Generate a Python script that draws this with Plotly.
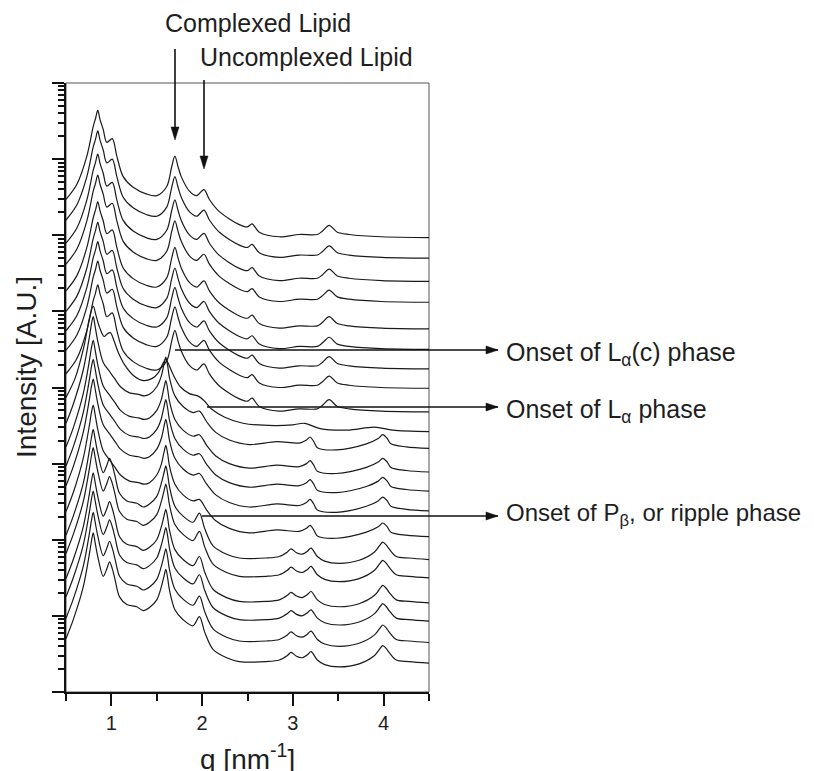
import plotly.graph_objects as go

# ---------------- data ----------------
# Scattering profiles: q [nm^-1] knots and log10 intensity relative to the curve's low-q start
q_Lac = [0.50, 0.62, 0.73, 0.80, 0.825, 0.85, 0.875, 0.91, 0.95, 1.01, 1.06, 1.13, 1.24, 1.39, 1.50,
         1.61, 1.665, 1.70, 1.735, 1.77, 1.86, 1.94, 2.02, 2.08, 2.19, 2.41, 2.50, 2.55, 2.63, 2.85,
         3.07, 3.27, 3.33, 3.40, 3.49, 3.62, 3.98, 4.50]
lg_Lac = [0.00, 0.20, 0.57, 0.96, 1.06, 1.17, 1.05, 0.92, 0.75, 0.80, 0.57, 0.30, 0.16, 0.07, 0.05,
          0.17, 0.43, 0.57, 0.43, 0.30, 0.11, 0.05, 0.13, 0.00, -0.16, -0.33, -0.36, -0.32, -0.43, -0.49,
          -0.46, -0.46, -0.41, -0.34, -0.43, -0.46, -0.49, -0.50]

q_La = [0.50, 0.60, 0.70, 0.76, 0.80, 0.83, 0.87, 0.92, 0.96, 0.99, 1.03, 1.08, 1.15, 1.25, 1.35,
        1.45, 1.52, 1.57, 1.60, 1.63, 1.68, 1.76, 1.86, 1.95, 2.02, 2.10, 2.25, 2.45, 2.80, 3.00,
        3.13, 3.30, 3.60, 3.90, 4.10, 4.50]
lg_La = [0.00, 0.25, 0.68, 1.05, 1.20, 1.08, 0.92, 0.80, 0.84, 0.85, 0.74, 0.58, 0.42, 0.28, 0.22,
         0.25, 0.33, 0.45, 0.50, 0.44, 0.30, 0.14, 0.05, 0.02, -0.04, -0.15, -0.26, -0.34, -0.37, -0.36,
         -0.34, -0.41, -0.43, -0.39, -0.43, -0.45]

q_Lb = [0.50, 0.58, 0.69, 0.76, 0.78, 0.80, 0.82, 0.85, 0.91, 0.98, 1.04, 1.10, 1.20, 1.30, 1.36,
        1.42, 1.50, 1.55, 1.58, 1.60, 1.62, 1.64, 1.70, 1.79, 1.90, 1.97, 2.05, 2.15, 2.30, 2.52,
        2.82, 3.07, 3.15, 3.19, 3.23, 3.27, 3.48, 3.81, 3.94, 3.99, 4.04, 4.08, 4.25, 4.50]
lg_Lb = [0.00, 0.25, 0.70, 1.15, 1.30, 1.40, 1.28, 1.08, 0.80, 0.68, 0.58, 0.48, 0.40, 0.38, 0.36,
         0.38, 0.48, 0.62, 0.78, 0.87, 0.76, 0.60, 0.36, 0.22, 0.14, 0.16, 0.02, -0.12, -0.22, -0.28,
         -0.24, -0.26, -0.22, -0.18, -0.24, -0.32, -0.35, -0.27, -0.20, -0.15, -0.20, -0.27, -0.31, -0.33]

q_Pb = [0.50, 0.58, 0.69, 0.76, 0.78, 0.80, 0.82, 0.85, 0.91, 0.95, 0.98, 1.01, 1.04, 1.09, 1.17,
        1.28, 1.35, 1.42, 1.50, 1.55, 1.58, 1.60, 1.62, 1.64, 1.70, 1.79, 1.90, 1.97, 2.03, 2.12,
        2.27, 2.41, 2.71, 2.85, 2.94, 2.98, 3.04, 3.10, 3.16, 3.20, 3.27, 3.35, 3.51, 3.73, 3.90,
        3.96, 3.99, 4.03, 4.06, 4.14, 4.28, 4.50]
lg_Pb = [0.00, 0.25, 0.68, 1.13, 1.28, 1.39, 1.27, 1.08, 0.82, 0.92, 1.01, 0.92, 0.78, 0.55, 0.45,
         0.42, 0.37, 0.41, 0.51, 0.68, 0.82, 0.91, 0.80, 0.64, 0.38, 0.25, 0.17, 0.29, 0.08, -0.14,
         -0.25, -0.30, -0.30, -0.28, -0.22, -0.18, -0.23, -0.25, -0.21, -0.17, -0.28, -0.34, -0.37, -0.33, -0.22,
         -0.13, -0.09, -0.13, -0.18, -0.28, -0.30, -0.32]

# which phase profile each stacked curve (top to bottom) shows, and its vertical stacking offset (decades)
curve_phase = ["Lac"] * 9 + ["La"] + ["Lb"] * 5 + ["Pb"] * 6
curve_offset = [6.47, 6.20, 5.895, 5.62, 5.27, 5.00, 4.745, 4.49, 4.18, 3.87, 3.53,
                3.22, 2.97, 2.71, 2.37, 2.06, 1.82, 1.49, 1.25, 0.97, 0.70]

profiles = {"Lac": (q_Lac, lg_Lac), "La": (q_La, lg_La), "Lb": (q_Lb, lg_Lb), "Pb": (q_Pb, lg_Pb)}

x_ticks = [1, 2, 3, 4]
x_tick_text = ["1", "2", "3", "4"]

# ---------------- figure ----------------
FONT = "Liberation Sans, Arial, Helvetica, sans-serif"
TXT = "#1e1e1e"
PAGE = 8                      # default body margin of the html page
W, H = 814 - PAGE, 771 - PAGE
L, R, T, B = 66, 429, 83, 692  # plot area in screen pixels


def px(x):
    return (x - L) / (R - L)


def py(y):
    return (B - y) / (B - T)


fig = go.Figure()
for phase, off in zip(curve_phase, curve_offset):
    qs, lg = profiles[phase]
    fig.add_trace(go.Scatter(
        x=qs, y=[10 ** (off + v) for v in lg], mode="lines",
        line=dict(color="#1a1a1a", width=1.2, shape="spline", smoothing=0.9),
        showlegend=False, hoverinfo="skip"))

fig.update_layout(
    width=W, height=H,
    margin=dict(l=L - PAGE, r=814 - R, t=T - PAGE, b=771 - B, pad=0),
    paper_bgcolor="white", plot_bgcolor="white",
    font=dict(family=FONT, color=TXT),
    showlegend=False,
)
fig.update_xaxes(
    range=[0.5, 4.5], showgrid=False, zeroline=False,
    showline=True, linecolor="#111", linewidth=2,
    tickmode="array", tickvals=x_ticks, ticktext=x_tick_text,
    ticks="outside", ticklen=12, tickwidth=2, tickcolor="#111",
    tickfont=dict(size=20, family=FONT, color=TXT),
    minor=dict(ticks="outside", ticklen=7, tickwidth=2, tickcolor="#111", dtick=0.5, tick0=0.5, showgrid=False),
)
fig.update_yaxes(
    type="log", range=[0, 8], showgrid=False, zeroline=False,
    showline=True, linecolor="#111", linewidth=2,
    dtick=1, showticklabels=False,
    ticks="outside", ticklen=12, tickwidth=2, tickcolor="#111",
    minor=dict(ticks="outside", ticklen=6, tickwidth=1.5, tickcolor="#111", dtick="D1", showgrid=False),
)

shapes = []
# thin frame (top and right)
shapes.append(dict(type="rect", xref="paper", yref="paper", x0=0, y0=0, x1=1, y1=1,
                   line=dict(color="#555", width=1), layer="below"))


def hline(x0, x1, y):
    shapes.append(dict(type="line", xref="paper", yref="paper", x0=px(x0), x1=px(x1), y0=py(y), y1=py(y),
                       line=dict(color="#111", width=1.6)))
    shapes.append(dict(type="path", xref="paper", yref="paper", xsizemode="pixel", ysizemode="pixel",
                       xanchor=px(x1), yanchor=py(y), path="M 0 0 L -12 4 L -12 -4 Z",
                       fillcolor="#111", line=dict(color="#111", width=0.5)))


def vline(x, y0, y1):
    shapes.append(dict(type="line", xref="paper", yref="paper", x0=px(x), x1=px(x), y0=py(y0), y1=py(y1 - 11),
                       line=dict(color="#111", width=1.6)))
    shapes.append(dict(type="path", xref="paper", yref="paper", xsizemode="pixel", ysizemode="pixel",
                       xanchor=px(x), yanchor=py(y1), path="M 0 0 L -4 13 L 4 13 Z",
                       fillcolor="#111", line=dict(color="#111", width=0.5)))


vline(175, 49, 140)
vline(204, 80, 169)
hline(175, 498, 350)
hline(207, 498, 407)
hline(202, 498, 516)
fig.update_layout(shapes=shapes)

ann = []


def text(x, y, s, size=25, xanchor="left", angle=0):
    ann.append(dict(xref="paper", yref="paper", x=px(x), y=py(y), text=s, showarrow=False,
                    xanchor=xanchor, yanchor="middle", textangle=angle,
                    font=dict(size=size, family=FONT, color=TXT)))


text(163, 23, "Complexed Lipid")
text(198, 57, "Uncomplexed Lipid")
text(504, 354, "Onset of L<sub>α</sub>(c) phase")
text(504, 411, "Onset of L<sub>α</sub> phase")
text(504, 514, "Onset of P<sub>β</sub>, or ripple phase", size=24)
text(26, 367, "Intensity [A.U.]", size=28, xanchor="center", angle=-90)
text(247, 757, "q [nm<sup>-1</sup>]", size=28, xanchor="center")
fig.update_layout(annotations=ann)

fig.write_html("out.html")
